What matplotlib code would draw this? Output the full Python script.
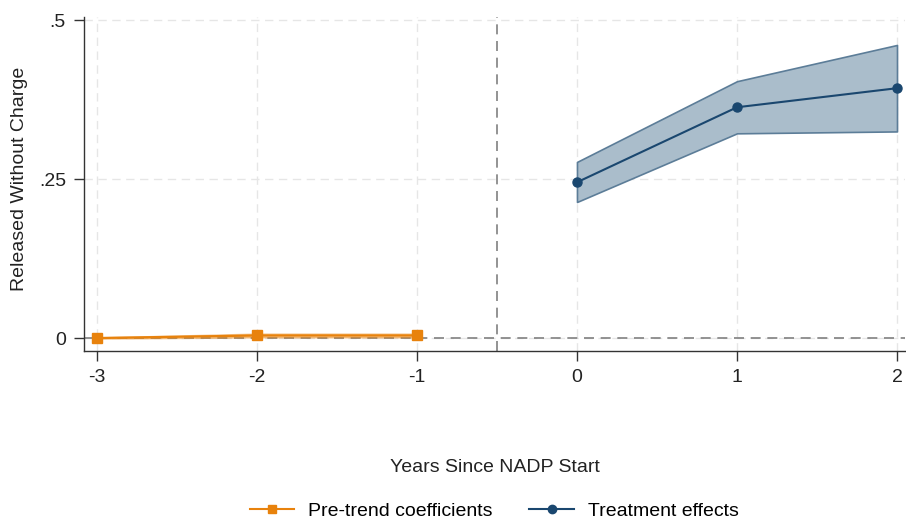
import matplotlib
matplotlib.use("Agg")
import matplotlib.pyplot as plt
from matplotlib.lines import Line2D

plt.rcParams['font.family'] = ['Liberation Sans', 'DejaVu Sans']

pre_x = [-3, -2, -1]
pre_y = [0.0, 0.004, 0.004]
pre_lo = [-0.001, 0.001, 0.001]
pre_hi = [0.001, 0.007, 0.007]

post_x = [0, 1, 2]
post_y = [0.245, 0.363, 0.393]
post_lo = [0.214, 0.322, 0.325]
post_hi = [0.277, 0.404, 0.461]

xticks = [-3, -2, -1, 0, 1, 2]
yticks = [0, 0.25, 0.5]
yticklabels = ['0', '.25', '.5']

orange = '#E8820C'
navy = '#1a476f'
fs = 14

fig = plt.figure(figsize=(9.06, 5.24), dpi=100)
ax = fig.add_axes([84/906, (524-351)/524, (905-84)/906, (351-17)/524])

for x in xticks:
    ax.axvline(x, color='#e6e6e6', lw=1, ls=(0, (6, 4)), zorder=0)
for y in yticks:
    ax.axhline(y, color='#e6e6e6', lw=1, ls=(0, (6, 4)), zorder=0)

ax.axhline(0, color='#808080', lw=1.2, ls=(0, (6, 4)), zorder=1)
ax.axvline(-0.5, color='#808080', lw=1.2, ls=(0, (6, 4)), zorder=1)

ax.fill_between(pre_x, pre_lo, pre_hi, color=orange, alpha=0.4, lw=1, edgecolor=orange, zorder=2)
ax.plot(pre_x, pre_y, color=orange, lw=1.6, marker='s', ms=7, zorder=3)

ax.fill_between(post_x, post_lo, post_hi, facecolor='#aabdcb', edgecolor='#5c7d98', lw=1.2, zorder=2)
ax.plot(post_x, post_y, color=navy, lw=1.5, marker='o', ms=6.5, zorder=3)

ax.set_xlim(-3.081, 2.05)
ax.set_ylim(-0.0204, 0.505)
ax.set_xticks(xticks)
ax.set_xticklabels([str(x) for x in xticks])
ax.set_yticks(yticks)
ax.set_yticklabels(yticklabels)
ax.tick_params(axis='both', direction='out', length=7, width=1, colors='#333333', labelcolor='#222222', labelsize=fs, pad=6)

for s in ['top', 'right']:
    ax.spines[s].set_visible(False)
for s in ['left', 'bottom']:
    ax.spines[s].set_color('#333333')
    ax.spines[s].set_linewidth(1)

fig.text(20/906, 1 - 179/524, 'Released Without Charge', rotation=90, ha='center', va='center', fontsize=fs, color='#222222')
fig.text((84+906)/2/906, 1 - 468/524, 'Years Since NADP Start', ha='center', va='center', fontsize=fs, color='#222222')

handles = [Line2D([], [], color=orange, lw=1.5, marker='s', ms=6),
           Line2D([], [], color=navy, lw=1.5, marker='o', ms=6)]
fig.legend(handles, ['Pre-trend coefficients', 'Treatment effects'], loc='center',
           bbox_to_anchor=(494/906, 1 - 511/524), ncol=2, frameon=False, fontsize=fs,
           handlelength=2.3, columnspacing=1.9, handletextpad=0.7)

fig.savefig('out.png', dpi=100, facecolor='white')
